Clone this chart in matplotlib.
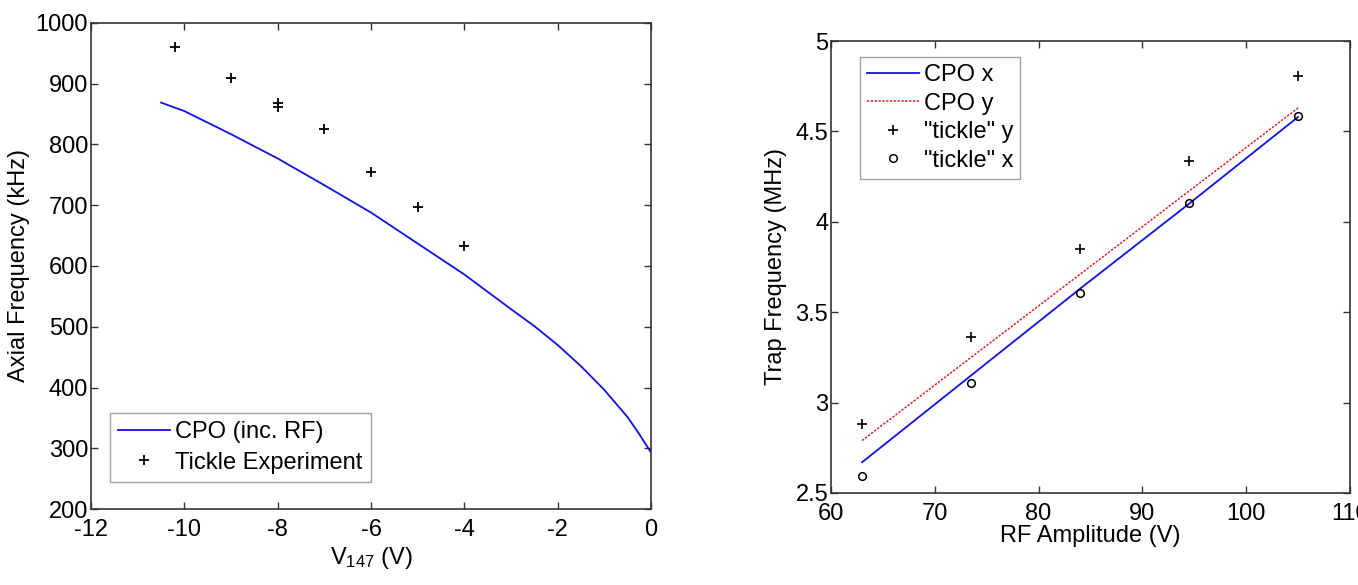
import numpy as np
import matplotlib
matplotlib.use('Agg')
import matplotlib.pyplot as plt

plt.rcParams['font.family'] = ['Liberation Sans', 'DejaVu Sans']
plt.rcParams['mathtext.default'] = 'regular'
plt.rcParams['axes.unicode_minus'] = False
plt.rcParams['font.size'] = 17

# left panel: axial frequency vs V147
v_curve = [-10.5, -10, -9, -8, -7, -6, -5, -4, -3, -2.5, -2, -1.5, -1, -0.5, -0.25, 0]
f_curve = [869, 855, 817, 777, 733, 688, 637, 586, 529, 501, 470, 435, 396, 351, 323, 293]
v_tickle = [-10.2, -9, -8, -8, -7, -6, -5, -4]
f_tickle = [960, 909, 869, 862, 826, 754, 697, 633]

# right panel: trap frequency vs RF amplitude
rf = [63, 73.5, 84, 94.5, 105]
cpo_x = [2.67, 3.15, 3.63, 4.10, 4.58]
cpo_y = [2.79, 3.25, 3.71, 4.17, 4.63]
tickle_y = [2.881, 3.364, 3.852, 4.335, 4.809]
tickle_x = [2.593, 3.111, 3.607, 4.105, 4.586]

fig = plt.figure(figsize=(13.58, 5.85), dpi=100)
ax1 = fig.add_axes([0.067, 0.1299, 0.4124, 0.8308])
ax2 = fig.add_axes([0.6119, 0.1573, 0.3822, 0.7726])

def style(ax):
    for s in ax.spines.values():
        s.set_color('#333333')
        s.set_linewidth(1.2)
    ax.tick_params(direction='in', top=True, right=True, length=5,
                   width=1, color='#333333', labelsize=17, pad=2)
    ax.tick_params(axis='x', pad=7)

ax1.plot(v_curve, f_curve, color='#1010e0', lw=1.3, label='CPO (inc. RF)')
ax1.plot(v_tickle, f_tickle, ls='none', marker='+', color='black', ms=7,
         mew=1.3, label='Tickle Experiment')
ax1.set_xlim(-12, 0)
ax1.set_ylim(200, 1000)
ax1.set_xticks(np.arange(-12, 1, 2))
ax1.set_yticks(np.arange(200, 1001, 100))
ax1.set_xlabel(r'V$_{147}$ (V)', fontsize=17, labelpad=3)
ax1.set_ylabel('Axial Frequency (kHz)', fontsize=17, labelpad=4)
style(ax1)
leg1 = ax1.legend(loc='lower left', bbox_to_anchor=(0.034, 0.056), fontsize=17,
                  fancybox=False, edgecolor='#888888', handlelength=2.2,
                  handletextpad=0.2, borderpad=0.35, labelspacing=0.35,
                  borderaxespad=0)
leg1.get_frame().set_linewidth(1.0)

ax2.plot(rf, cpo_x, color='#1010e0', lw=1.3, label='CPO x')
ax2.plot(rf, cpo_y, color='#e02020', lw=1.1, ls=(0, (1.5, 1)), label='CPO y')
ax2.plot(rf, tickle_y, ls='none', marker='+', color='black', ms=7, mew=1.2,
         label='"tickle" y')
ax2.plot(rf, tickle_x, ls='none', marker='o', mfc='none', mec='black', ms=5.5,
         mew=1.1, label='"tickle" x')
ax2.set_xlim(60, 110)
ax2.set_ylim(2.5, 5)
ax2.set_xticks(np.arange(60, 111, 10))
ax2.set_yticks([2.5, 3, 3.5, 4, 4.5, 5])
ax2.set_yticklabels(['2.5', '3', '3.5', '4', '4.5', '5'])
ax2.set_xlabel('RF Amplitude (V)', fontsize=17, labelpad=0)
ax2.set_ylabel('Trap Frequency (MHz)', fontsize=17, labelpad=6)
style(ax2)
leg2 = ax2.legend(loc='upper left', bbox_to_anchor=(0.056, 0.965), fontsize=17,
                  fancybox=False, edgecolor='#888888', handlelength=2.2,
                  handletextpad=0.2, borderpad=0.3, labelspacing=0.28,
                  borderaxespad=0)
leg2.get_frame().set_linewidth(1.0)

fig.savefig('out.png', dpi=100)
